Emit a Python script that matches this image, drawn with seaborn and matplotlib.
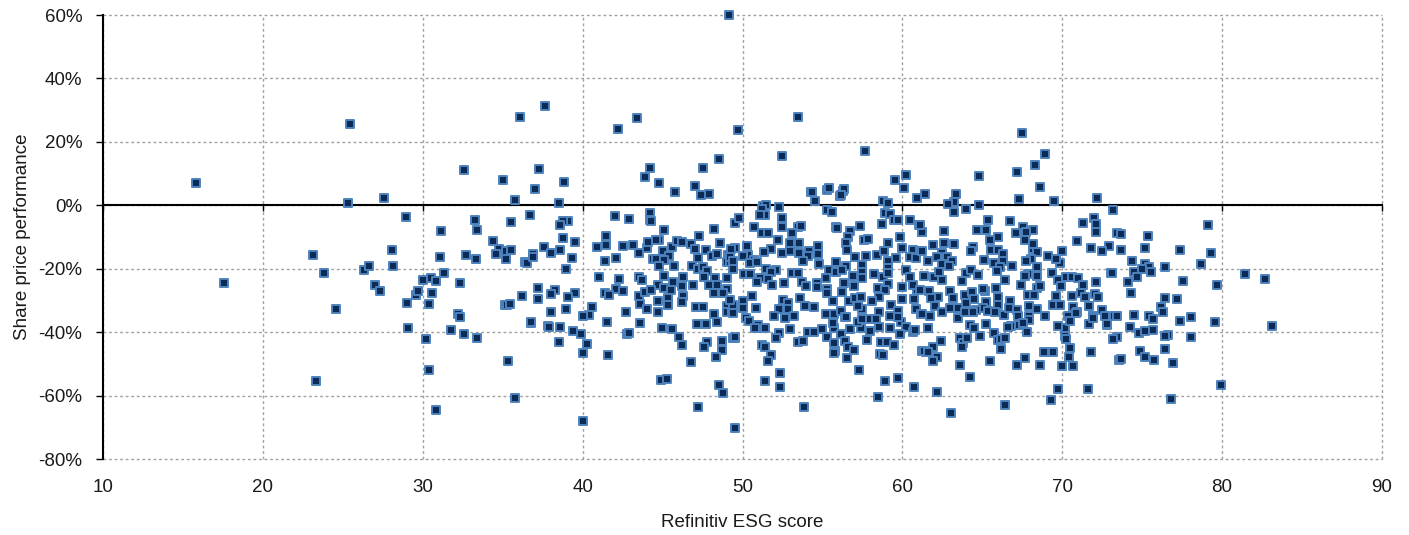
import matplotlib
matplotlib.use("Agg")
import matplotlib.pyplot as plt
import pandas as pd
import seaborn as sns

PAIRS = """
15.84,6.9 25.45,25.6 25.3,.6 27.6,2.3 32.55,11 35,8.05 36.1,27.8 37.65,31.3 37.3,11.4 37,5.1 35.8,1.8
17.55,-24.4 23.14,-15.6 23.8,-21.2 24.6,-32.8 23.3,-55.4 26.35,-20.5 26.66,-19.3 28.06,-14.1 28.14,-19
28.97,-3.6 27,-25 27.3,-27 29,-30.9 29.1,-38.8 30,-23.6 29.6,-28.25 29.7,-26.9 30.5,-23 30.8,-24 31.3,-21.5
30.6,-27.6 30.4,-31 30.2,-42.2 30.4,-51.8 30.8,-64.4 31.15,-8 31.1,-16.2 33.25,-4.5 33.4,-7.9 32.7,-15.8
33.35,-16.9 32.3,-24.4 32.2,-34.3 32.35,-35.3 31.75,-39.2 32.6,-40.6 33.4,-42 34.4,-11.25 34.75,-13.8
34.6,-15.4 35.2,-14.3 35.5,-14.2 35.2,-16.8 35.5,-5.4 36.7,-3.05 35.35,-49.15 35.75,-60.7 35.15,-31.4
35.3,-31.4 35.45,-31.2 36.2,-28.5 37.2,-26 37.2,-29.6 36.4,-17.75 36.5,-18.3 36.9,-15.3 36.9,-16.4
37.6,-13.1 36.75,-37 36.8,-36.9 37.85,-38.2
38.5,.8 42.05,-3.3 42.9,-4.4 44.2,-2.5 44.2,-4.6 44.3,-4.9 45.1,-7.8 39.1,-4.8 38.8,-5.1 38.6,-6.2 38.8,-10.4
39.5,-11.5 38.05,-15.1 38.6,-14 39.35,-16.7 38.95,-20.1 41.45,-9.6 41.45,-12.5 40.9,-13 41.4,-17.7 42.1,-16.5
42.5,-12.7 43.15,-12.5 43.5,-14.9 44,-13.6 44.1,-11.6 44.8,-10.8 44.6,-10.9 45,-14.5 45.6,-13.2 45.9,-11.2
46.2,-11.5 45.4,-16 44.4,-16.8 44.6,-16.8 45.1,-17.4 44.8,-19.3 45.7,-19.1 46.8,-12.3 47.3,-9.7 48.2,-7.4
49.5,-5.7 48.6,-11.8 47,-13.9 47.7,-14.1 47.2,-16.5 48.1,-15.9 48.4,-15.4 49.1,-15.6 49.5,-13.5 46.85,-19
47.2,-20.2 47.5,-19.5 47.8,-20.7 49,-17.8 49.2,-18 49.4,-20 41,-22.6 42.3,-23.4 43.5,-22.7 43.7,-23.6
45.1,-22.3 46.3,-22.5 45.65,-24.2 46.9,-25.1 47.6,-22.6 48.25,-22.8 49,-23 44.7,-25 45.1,-26.2 45.5,-26.7
46.2,-25.4 47.9,-25.1 48.4,-25.2 49,-26.5 42.1,-26.4 42.5,-27 41.4,-27.8 41.65,-28.4 38.3,-26.7 38,-27.9
39.55,-27.8 39.1,-29 43.5,-28.6 43.9,-27.2 44.25,-26.7 46.3,-28.6 48.2,-27.8 48.8,-27.6 44.7,-30.1 45.35,-29.3
45.35,-31.4 46.2,-30.6 43.6,-31 44,-32.7 44.7,-33.7 42.7,-33.5 38,-33.5 38.95,-32.8 40.6,-32.1 40.4,-34.7
40,-35 47.1,-32.1 47.5,-32.1 48.2,-34.3 49.05,-31.6 49,-33.8 49.35,-33.7
37.9,-38.3 38.6,-38.5 39.4,-39.5 39.9,-40.6 38.5,-43 40.3,-43.7 40,-46.5 40,-68 41.5,-36.8 41.6,-47.1 43.6,-37.2
42.75,-40.5 42.9,-40.2 44.95,-38.8 45.6,-38.9 46,-41.4 46.2,-43.9 46.75,-49.4 47.15,-37.3 47.7,-37.5 48.4,-36.7
47.8,-43.2 47.6,-44.8 48.7,-42.8 48.7,-45.5 48.35,-47.7 44.9,-55.1 45.3,-54.9 48.5,-56.7 48.75,-59.1 47.2,-63.6
49.5,-70.2 49.4,-41.7 49.55,-41.7
54.3,4.1 56.1,3 56.3,4.6 54.55,1.5 55.3,4.8 58.8,1.4 59.1,.6 52.3,-.6 51.3,-.2 51.45,.1 51.2,-1.2 51.4,-3 51.1,-3
49.8,-4.1 52.5,-4.1 50.75,-6.7 52.5,-7 53.5,-6.7 53.65,-6.4 53.1,-8.8 51.2,-8.8 51.6,-8.8 52.25,-10.9 55.3,-1.5
55.6,-2.2 58.9,-2.3 59.2,-2.7 59.5,-4.6 59.7,-4.6 58.75,-5.8 60.45,-4.7 61.05,-6.2 61.2,-8.3 57.35,-6.5 55.85,-7
55.9,-7.2 56.7,-8.2 56.6,-9.9 56.5,-11.8 57.6,-10.9 57.85,-10.7 59.85,-10 59.1,-11.9 56.55,-14 52.95,-12 53.55,-12
54.7,-12.8 50.3,-12.8 51.8,-13.9 51.35,-14.7 52.5,-15.1 52.95,-14.5 53.55,-14.9 54.15,-14.3 54.1,-15.9 54.75,-15.3
57.05,-16.4 57.75,-15.9 58.4,-15.6 58.85,-14.3 60,-13.6 60.65,-14.1 61.1,-14.4 60.45,-16.2 60.85,-16.5 59.6,-16.6
59.1,-17.5 59.1,-19.8 57.5,-18.8 56.5,-19.1 55.85,-18 53.8,-17.7 54.8,-18.5 49.3,-13.9 50.35,-15.6 50.05,-15.9
49.2,-16.2 50.75,-17.3 50.5,-18.3 50.9,-18 49.4,-17.7 55.4,-20.4 55.85,-20.9 56.2,-20.4 51.5,-20 52.1,-20.4 51.8,-20.9
53.1,-21.4 53.45,-21.4 50.1,-21.8 50.45,-21.8 56.9,-22.3 57.5,-20.9 57.5,-23 58.25,-21.8 58.8,-22.7 59.1,-21.4
60.25,-20.4 60.45,-22.5 61.35,-22.2 51.6,-23.2 51.1,-23 50.9,-24.2 51.85,-25.1 52.6,-24.6 53.7,-24.3 53.95,-25.4
55.25,-23 54.65,-24.4 54.65,-25.8 56.35,-24.4 57,-25.3 55.3,-26.4 56.2,-27.3 59.1,-24.9 58.45,-26.1 58.9,-26.7
59.95,-25.7 60.9,-26.8 60.65,-25.1 55.3,-27.7 58.55,-28.8 50.6,-28.6 50,-30.1 53.6,-29.1 53.9,-31.9 54.45,-32.1
52.55,-30 52.85,-30.9 52.3,-32.6 52.85,-32.8 50.85,-32.5 50.05,-32.5 49.4,-31.4 49.4,-34 49.2,-29.8 55.65,-30.3
56.65,-30.3 57.05,-29.3 57.4,-28.8 58.1,-30.3 59.3,-31.4 60,-29.6 60.75,-29.5 57.45,-32.6 58.55,-33.8 59.7,-33.2
60.85,-32.6 61.15,-34.2 55.25,-34.2 55.7,-34.2 56.15,-33.2 57.2,-31.9 52,-34.9 52.65,-35.6 53.25,-34.9 56.4,-35.1
50.25,-35.6
49.55,-41.6 50.4,-36.4 51,-37.65 51.4,-38.6 50.8,-38.8 52.3,-40.4 52.1,-41.8 53,-39 54.1,-40 54.5,-40 53.5,-43 53.8,-42.8
51.25,-44 51.4,-44.8 51.8,-47.3 51.6,-49 52.35,-52.9 51.4,-55.4 52.35,-57.2 53.85,-63.6 54.95,-38.9 55.3,-41.4 55.7,-38.8
56.15,-40.7 56.7,-38.9 55.65,-37.2 55.7,-43.5 56.4,-42.7 55.8,-45.8 55.75,-46.7 56.6,-44.8 56.95,-45.6 56.55,-48.2 57.3,-51.8
57.4,-38.6 57.95,-39.5 57.8,-42.5 57.2,-36.7 57.5,-35.9 57.95,-35.7 58.35,-35.7 56.45,-35.3 58.55,-38.5 59.25,-38.8 59.9,-36.7
59.2,-34.9 59.75,-35.1 60.25,-38.3 59.85,-40.7 60.65,-39.9 60.8,-39.3 58.65,-43.1 59.05,-43 59.45,-43.95 58.6,-46.8 58.8,-47.3
58.9,-55.5 59.75,-54.45 60.7,-57.2 58.5,-60.6 61.6,-38.8 61.25,-45.95 61.5,-46.2
63.25,.95 62.85,.4 64.8,.2 63.2,-2 64,-1.3 73.2,-1.5 65.35,-4.7 66.75,-5.1 67.55,-6.9 68.2,-7.7 67.75,-8.3 67.1,-8.7 64.65,-7.7
65.2,-7.8 62.6,-8 61.25,-8.3 61.1,-6.2 66,-10 65.5,-10.9 67.7,-10.9 71.3,-5.5 72,-3.9 72.1,-6 72.1,-8.3 70.9,-11.2 73.45,-8.8
72.9,-12.8 72.5,-14.4 71.8,-13.4 61.9,-12.5 62.6,-11.8 63.25,-12.2 64.4,-13 64.3,-14.3 65.55,-14.1 66,-14.1 68.15,-13.9
68.15,-12.3 68.45,-14.8 70,-14.4 69.1,-15.9 61.2,-14.5 62.5,-15.2 62.15,-16.2 62.8,-16.2 63.1,-17.6 61.6,-17.7 62.45,-18.5
62.9,-19.2 65.1,-17.3 66.3,-15.4 66.3,-17.5 65.7,-18.3 66.1,-19.5 66.85,-19.3 68.05,-17 67.75,-17.7 68.4,-19.6 69.85,-18.2
69.6,-17 69.35,-21.4 69.75,-23.7 73.05,-21.4 72.1,-24.1 61.95,-22.7 62.45,-23.7 62.3,-20.9 63.95,-21.4 64.3,-20.4 64.75,-22.1
63.7,-24 65.9,-20.7 66.4,-23.6 65.85,-26 67.85,-21.6 67.65,-22.3 68.45,-22.3 67.45,-25.2 68.45,-26 68.6,-25.6 70.25,-22.5
70.6,-22.5 71,-23 69.9,-25.6 71.3,-25.1 71.15,-27.5 72.05,-27.9 72.25,-28.8 70.6,-28.6 71.4,-28.8 69.6,-28.6 69.5,-31.4
69.45,-31.4 69.85,-31.4 70.65,-32.1 70.95,-33.6 71.7,-31.9 72.5,-33 71.9,-35 72.65,-35 61.1,-26.7 61.65,-27 62.95,-26.9
62.25,-28.8 61.8,-29.3 63.15,-29.3 63.9,-28.3 64.35,-27.4 65.15,-26.9 65.05,-26.5 65.95,-28.8 66.75,-30.3 64.5,-29.6
65.25,-30.6 66,-31.3 63.95,-30.7 67.85,-28.2 68.25,-28.2 67.95,-31.7 68.4,-32.55 62.05,-31.6 62.95,-32.4 63.5,-32.4 62.5,-33.8
61.7,-35 61.2,-34.2 65.05,-32.4 64.6,-33 65.35,-33.2 65.8,-33.8 66.35,-34.55 67.2,-33 66.7,-32.4 67.25,-34.9 67.95,-35
68.9,-34.9 63.5,-35.4 64.4,-33.7 63.9,-33.5 70.35,-35 71.9,-34.9 73.25,-34.9 70.85,-34
61.6,-38.8 62.4,-42.7 61.9,-44.8 61.35,-45.8 61.6,-46.4 62.15,-47.8 61.9,-49 63.6,-42 63.8,-43.5 64.05,-42 63.75,-44.8 64.85,-41.2
64.2,-37.8 64.5,-38.6 65.2,-37.3 65.75,-40.2 66,-42.5 66.2,-42.2 66.4,-41.7 66.15,-45.2 66.8,-38.2 66.6,-38.3 67.3,-37.9 67.8,-40
67.9,-36.2 67.55,-37.2 68.85,-46.2 69.45,-46.2 67.7,-48.3 67.15,-50.4 68.6,-50.5 65.5,-49 63.6,-50.4 64.2,-54 62.15,-59 63.05,-65.5
66.4,-63 69.75,-57.8 69.3,-61.4 71.6,-57.8 70,-50.7 70.7,-50.7 70.4,-47.7 70.5,-45.1 71.8,-46.3 70.15,-38.8 70.15,-41.1 69.75,-37.95
70.25,-42.3 70.5,-36.4 71.65,-37.4 71.95,-35.55 72.8,-37.65 73.55,-48.8
79.1,-6.1 73.65,-8.9 75.35,-9.65 73.65,-14.2 75.15,-13.55 77.35,-14 79.3,-14.9 74.35,-17.5 78.65,-18.4 75.15,-18.5 75.4,-19.4
75.55,-20.9 75,-20 74.5,-20.9 74.65,-22.7 74.1,-24.25 76.45,-19.6 73.1,-21.5 77.55,-24 79.7,-25 81.4,-21.8 82.7,-23.4 74.3,-27.6
76.45,-29.1 77.15,-29.6 76.15,-32.1 76.3,-33.5 72.8,-37.5 73.4,-34.9 74.5,-34.55 75.4,-35 75.65,-35.8 77.35,-36.4 78.05,-35.3
79.55,-36.65 74.25,-38.3 74.8,-40.3 75.15,-39.6 75.65,-39.2 83.15,-38.1 76.6,-40.85 76.45,-41.2 78.05,-41.5 73.4,-41.4 73.2,-42.3
74.85,-45.9 75.15,-47.7 75.75,-48.7 76.95,-49.6 76.45,-45.4 73.7,-48.6 79.9,-56.7 76.8,-61.2
49.15,60 49.7,23.8 42.2,24.1 43.4,27.6 48.55,14.7 47.55,11.6 44.2,11.9 43.9,9 44.75,7.1 45.8,4.1 47,6.2 47.4,3.1 47.9,3.5 38.85,7.5
52.45,15.6 53.5,27.9 57.65,17.2 54.35,4.2 55.4,5.5 56.35,5 56.15,3.4 60.2,9.6 59.55,8 60.1,5.3 60.9,2.2 61.4,3.6 63.35,3.6 64.8,9.3
67.2,10.6 67.5,22.9 68.9,16.1 68.3,12.8 68.6,5.8 67.3,1.9 69.5,1.3 72.2,2.4
"""

esg_score = [float(p.split(",")[0]) for p in PAIRS.split()]
share_perf = [float(p.split(",")[1]) for p in PAIRS.split()]

x_ticks = list(range(10, 100, 10))
y_ticks = list(range(-80, 80, 20))
y_labels = [f"{v}%" for v in y_ticks]

sns.set_theme(style="white")
plt.rcParams["font.family"] = ["Liberation Sans", "DejaVu Sans"]

W, H = 1409, 535
fig = plt.figure(figsize=(W / 100, H / 100), dpi=100)
ax = fig.add_axes([103 / W, 1 - 459 / H, (1382 - 103) / W, (459 - 15) / H])

df = pd.DataFrame({"score": esg_score, "perf": share_perf})
sns.scatterplot(data=df, x="score", y="perf", marker="s", s=33, color="#0b2a55",
                edgecolor="#4d82bd", linewidth=1.4, clip_on=False, zorder=4, ax=ax)

ax.set_xlim(10, 90)
ax.set_ylim(-80, 60)
ax.set_xticks(x_ticks)
ax.set_yticks(y_ticks)
ax.set_yticklabels(y_labels)
ax.grid(True, color="#a0a0a0", lw=1, linestyle=(0, (2, 2)), clip_on=False)
ax.set_axisbelow(True)

for side in ["top", "right"]:
    ax.spines[side].set_visible(False)
ax.spines["left"].set_color("black")
ax.spines["left"].set_linewidth(1.5)
ax.spines["bottom"].set_position(("data", 0))
ax.spines["bottom"].set_color("black")
ax.spines["bottom"].set_linewidth(1.5)

ax.tick_params(axis="y", direction="out", length=5, width=1, color="black",
               labelsize=13.5, labelcolor="#1a1a1a", pad=10, left=True)
ax.tick_params(axis="x", direction="out", length=4, width=1, color="black",
               labelsize=13.5, labelcolor="#1a1a1a", pad=193, bottom=True)

ax.set_xlabel("Refinitiv ESG score", fontsize=13.5, color="#1a1a1a", labelpad=13)
ax.set_ylabel("Share price performance", fontsize=13.5, color="#1a1a1a", labelpad=5)

fig.savefig("out.png", dpi=100)
